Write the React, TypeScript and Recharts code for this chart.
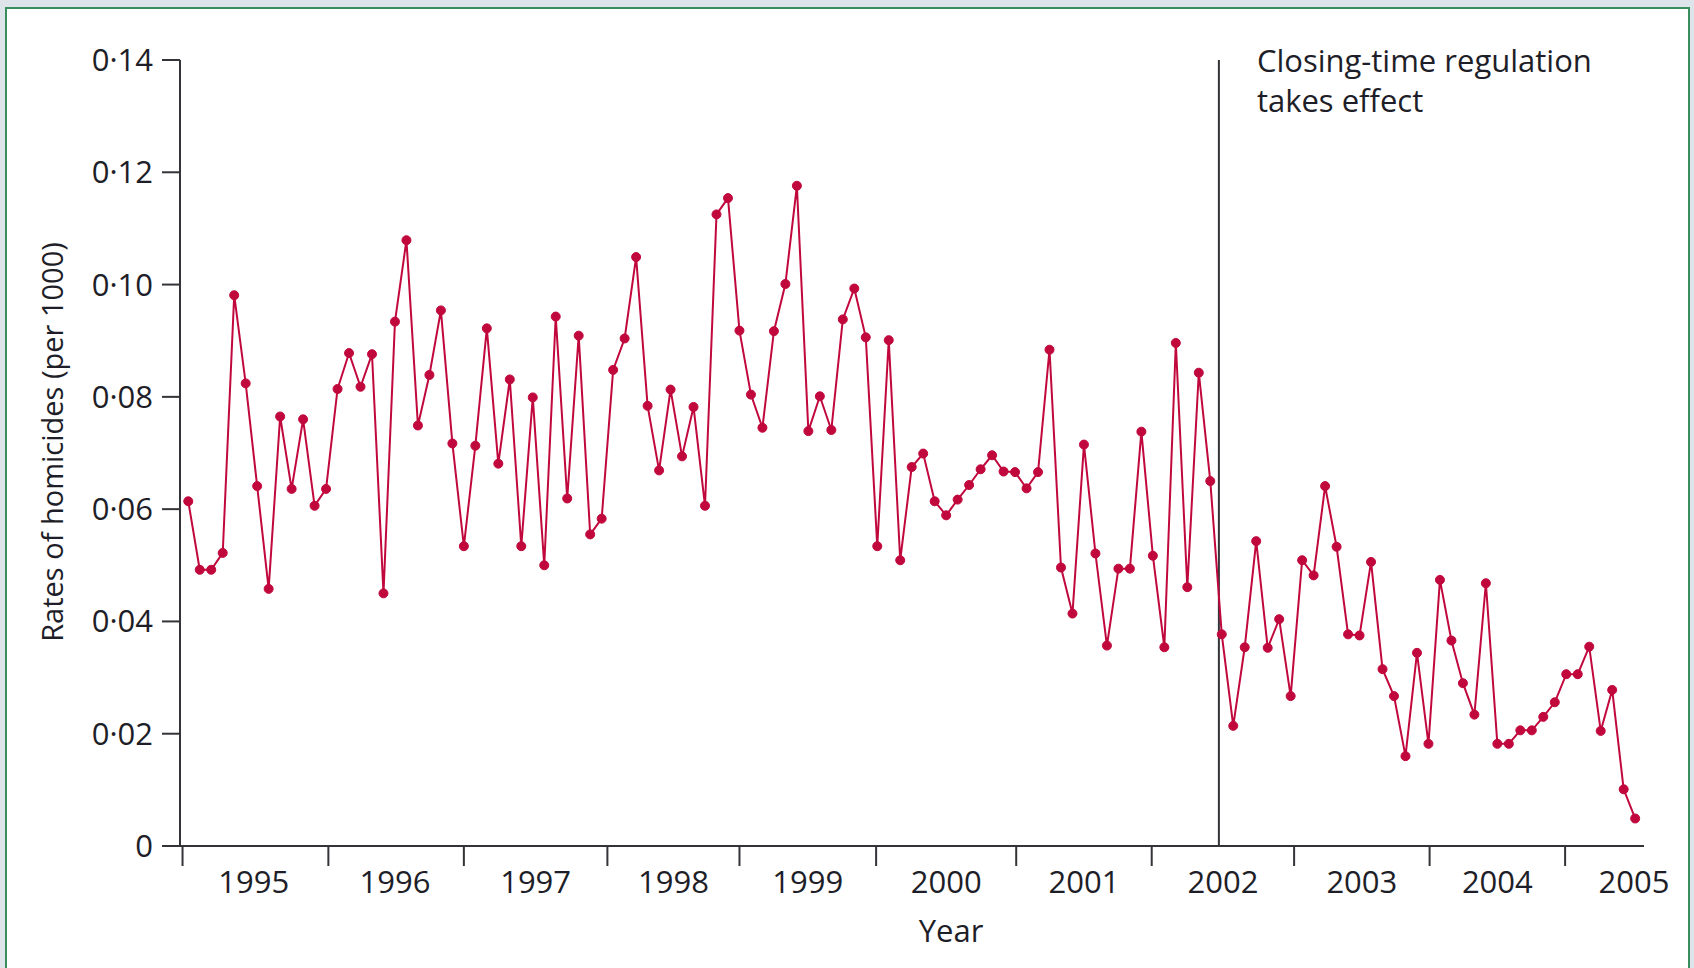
import React from "react";
import { LineChart, Line, XAxis, YAxis, ReferenceLine } from "recharts";

// Monthly homicide rates (per 1000), January 1995 – July 2005
const rates1995 = [0.0614, 0.0492, 0.0492, 0.0522, 0.0981, 0.0824, 0.0641, 0.0458, 0.0765, 0.0636, 0.076, 0.0606];
const rates1996 = [0.0636, 0.0814, 0.0878, 0.0818, 0.0876, 0.045, 0.0934, 0.1079, 0.0749, 0.0839, 0.0954, 0.0717];
const rates1997 = [0.0534, 0.0713, 0.0922, 0.0681, 0.0831, 0.0534, 0.0799, 0.05, 0.0943, 0.0619, 0.0909, 0.0555];
const rates1998 = [0.0583, 0.0848, 0.0904, 0.1049, 0.0784, 0.0669, 0.0813, 0.0694, 0.0782, 0.0606, 0.1125, 0.1154];
const rates1999 = [0.0918, 0.0804, 0.0745, 0.0917, 0.1001, 0.1176, 0.0739, 0.0801, 0.0741, 0.0938, 0.0993, 0.0906];
const rates2000 = [0.0534, 0.0901, 0.0509, 0.0675, 0.0699, 0.0614, 0.0589, 0.0617, 0.0643, 0.0671, 0.0696, 0.0667];
const rates2001 = [0.0666, 0.0637, 0.0666, 0.0884, 0.0496, 0.0414, 0.0715, 0.0521, 0.0357, 0.0494, 0.0494, 0.0738];
const rates2002 = [0.0517, 0.0354, 0.0896, 0.0461, 0.0843, 0.065, 0.0377, 0.0214, 0.0354, 0.0543, 0.0353, 0.0404];
const rates2003 = [0.0267, 0.0509, 0.0482, 0.0641, 0.0533, 0.0377, 0.0375, 0.0506, 0.0315, 0.0267, 0.016, 0.0344];
const rates2004 = [0.0182, 0.0474, 0.0366, 0.029, 0.0234, 0.0468, 0.0182, 0.0182, 0.0206, 0.0206, 0.023, 0.0256];
const rates2005 = [0.0306, 0.0306, 0.0355, 0.0205, 0.0278, 0.0101, 0.0049];

const rates = [
  ...rates1995, ...rates1996, ...rates1997, ...rates1998, ...rates1999, ...rates2000,
  ...rates2001, ...rates2002, ...rates2003, ...rates2004, ...rates2005,
];

// x categories: month index since January 1995
const monthIndex = rates.map((_, i) => i);

const yearLabels = ["1995", "1996", "1997", "1998", "1999", "2000", "2001", "2002", "2003", "2004", "2005"];
// tick marks and label centres as placed on the original axis (in month units)
const yearBoundaryTicks = [-0.5, 12.2, 24.0, 36.5, 48.0, 59.9, 72.1, 83.9, 96.3, 108.1, 119.9];
const yearLabelTicks = [5.7, 18.0, 30.25, 42.25, 53.95, 66.0, 78.0, 90.1, 102.2, 114.0, 125.9];
const yTicks = [0, 0.02, 0.04, 0.06, 0.08, 0.1, 0.12, 0.14];

const policyMonth = 89.75; // closing-time regulation (July 2002)
const annotationLines = ["Closing-time regulation", "takes effect"];

const data = monthIndex.map((m, i) => ({ month: m, rate: rates[i] }));

const LINE_COLOR = "#c1083d";
const AXIS_COLOR = "#333338";
const TEXT_COLOR = "#1e1e28";
const FONT = "'Open Sans', 'Noto Sans', sans-serif";

function XTick(props: any) {
  const { x, y, payload } = props;
  const v = payload.value;
  const b = yearBoundaryTicks.indexOf(v);
  if (b >= 0) {
    return <line x1={x} x2={x} y1={y} y2={y + 20} stroke={AXIS_COLOR} strokeWidth={2} />;
  }
  const l = yearLabelTicks.indexOf(v);
  return (
    <text x={x} y={y + 47} textAnchor="middle" fill={TEXT_COLOR} fontSize={31} fontFamily={FONT}>
      {yearLabels[l]}
    </text>
  );
}

function YearLabel(props: any) {
  const vb = props.viewBox;
  const cx = vb.x + vb.width / 2 + 39;
  return (
    <text x={cx} y={vb.y + 96} textAnchor="middle" fill={TEXT_COLOR} fontSize={31} fontFamily={FONT}>
      Year
    </text>
  );
}

function RateLabel(props: any) {
  const vb = props.viewBox;
  const x = vb.x + 63;
  const y = vb.y + vb.height / 2 - 11;
  return (
    <text
      x={x}
      y={y}
      textAnchor="middle"
      fill={TEXT_COLOR}
      fontSize={29}
      fontFamily={FONT}
      transform={`rotate(-90, ${x}, ${y})`}
    >
      Rates of homicides (per 1000)
    </text>
  );
}

function PolicyLabel(props: any) {
  const vb = props.viewBox;
  const x = vb.x + 38;
  return (
    <text fill={TEXT_COLOR} fontSize={31} fontFamily={FONT}>
      {annotationLines.map((t, i) => (
        <tspan key={i} x={x} y={vb.y + 12 + i * 40}>
          {t}
        </tspan>
      ))}
    </text>
  );
}

const formatY = (v: number) => (v === 0 ? "0" : v.toFixed(2).replace(".", "·"));

export default function App() {
  return (
    <div
      style={{
        position: "absolute",
        left: 0,
        top: 0,
        width: 1694,
        height: 968,
        overflow: "hidden",
        background: "#dde5eb",
        fontFamily: FONT,
      }}
    >
      <div
        style={{
          position: "absolute",
          left: 5,
          top: 7,
          width: 1685,
          height: 1000,
          background: "#ffffff",
          border: "2px solid #3a8d5d",
          boxSizing: "border-box",
        }}
      />
      <div style={{ position: "absolute", left: 0, top: 0 }}>
        <LineChart width={1694} height={968} data={data} margin={{ top: 60, right: 50, bottom: 52, left: 0 }}>
          <XAxis
            dataKey="month"
            type="number"
            domain={[-0.72, 126.77]}
            allowDataOverflow
            ticks={[...yearBoundaryTicks, ...yearLabelTicks]}
            interval={0}
            tickLine={false}
            tickSize={0}
            tickMargin={0}
            axisLine={{ stroke: AXIS_COLOR, strokeWidth: 2 }}
            tick={XTick}
            height={70}
            label={{ content: YearLabel }}
          />
          <YAxis
            type="number"
            domain={[0, 0.14]}
            ticks={yTicks}
            interval={0}
            width={180}
            tickSize={18}
            tickMargin={9}
            tickFormatter={formatY}
            tick={{ fontSize: 31, fill: TEXT_COLOR, fontFamily: FONT }}
            axisLine={{ stroke: AXIS_COLOR, strokeWidth: 2 }}
            tickLine={{ stroke: AXIS_COLOR, strokeWidth: 2 }}
            label={{ content: RateLabel }}
          />
          <ReferenceLine x={policyMonth} stroke={AXIS_COLOR} strokeWidth={2} label={{ content: PolicyLabel }} />
          <Line
            type="linear"
            dataKey="rate"
            stroke={LINE_COLOR}
            strokeWidth={2}
            dot={{ r: 4.5, fill: LINE_COLOR, stroke: LINE_COLOR, strokeWidth: 1 }}
            activeDot={false}
            isAnimationActive={false}
          />
        </LineChart>
      </div>
    </div>
  );
}
